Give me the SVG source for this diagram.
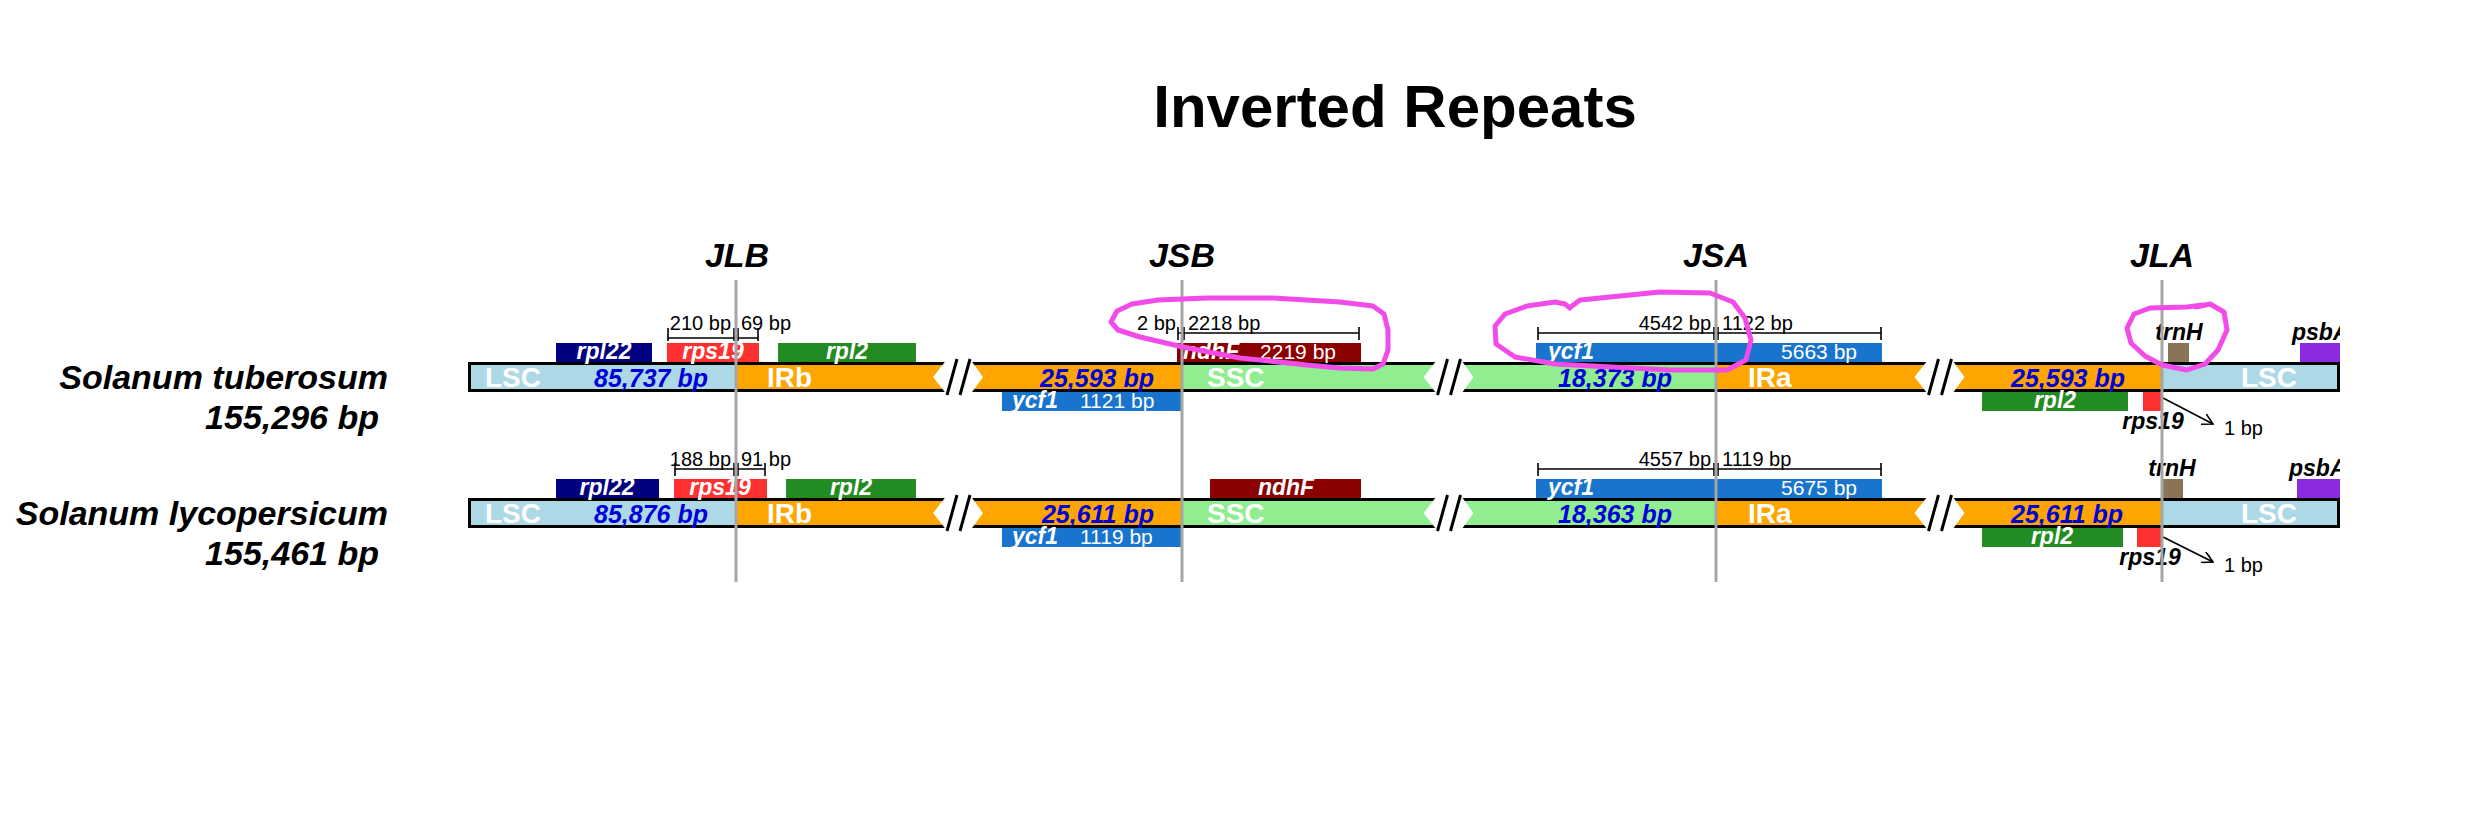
<svg xmlns="http://www.w3.org/2000/svg" width="2490" height="830" viewBox="0 0 2490 830">
<defs>
<style>
text{font-family:"Liberation Sans",Arial,Helvetica,sans-serif}
.title{font-size:60px;font-weight:bold;fill:#000}
.jn{font-size:34px;font-weight:bold;font-style:italic;fill:#000}
.sp{font-size:34px;font-weight:bold;font-style:italic;fill:#000}
.seg{font-size:28px;font-weight:bold;fill:#fff}
.num{font-size:25px;font-weight:bold;font-style:italic;fill:#0000d8}
.gl{font-size:23px;font-weight:bold;font-style:italic;fill:#fff}
.gk{font-size:23px;font-weight:bold;font-style:italic;fill:#000}
.len{font-size:21px;fill:#fff}
.br{font-size:20px;fill:#000}
.lsc{fill:#add8e6}
.ir{fill:#ffa500}
.ssc{fill:#90ee90}
.border{fill:none;stroke:#000;stroke-width:3}
.hex{fill:#fff}
.slash{stroke:#000;stroke-width:3}
.jl{stroke:#a6a6a6;stroke-width:3}
.tick{stroke:#000;stroke-width:1.6;fill:none}
.arr{stroke:#000;stroke-width:1.6;fill:none}
.mag{fill:none;stroke:#f24ce8;stroke-width:5;stroke-linejoin:round;stroke-linecap:round}
</style>
<clipPath id="clipR"><rect x="0" y="0" width="2340" height="830"/></clipPath>
<marker id="oa" viewBox="0 0 12 12" refX="11" refY="6" markerWidth="12" markerHeight="12" markerUnits="userSpaceOnUse" orient="auto">
<path d="M0,0 L11,6 L0,12" fill="none" stroke="#000" stroke-width="1.6"/>
</marker>
<g id="bar">
<rect class="lsc" x="468" y="362" width="268" height="30"/>
<rect class="ir" x="736" y="362" width="446" height="30"/>
<rect class="ssc" x="1182" y="362" width="534" height="30"/>
<rect class="ir" x="1716" y="362" width="446" height="30"/>
<rect class="lsc" x="2162" y="362" width="178" height="30"/>
<rect class="border" x="469.5" y="363.5" width="1869" height="27"/>
<polygon class="hex" points="933,377 946,360.5 971,360.5 983,377 971,393.5 946,393.5"/>
<line class="slash" x1="947" y1="395" x2="957" y2="359"/>
<line class="slash" x1="960" y1="395" x2="970" y2="359"/>
<polygon class="hex" points="1423.5,377 1436.5,360.5 1461.5,360.5 1473.5,377 1461.5,393.5 1436.5,393.5"/>
<line class="slash" x1="1437.5" y1="395" x2="1447.5" y2="359"/>
<line class="slash" x1="1450.5" y1="395" x2="1460.5" y2="359"/>
<polygon class="hex" points="1914.5,377 1927.5,360.5 1952.5,360.5 1964.5,377 1952.5,393.5 1927.5,393.5"/>
<line class="slash" x1="1928.5" y1="395" x2="1938.5" y2="359"/>
<line class="slash" x1="1941.5" y1="395" x2="1951.5" y2="359"/>
</g>
</defs>

<rect x="0" y="0" width="2490" height="830" fill="#fff"/>

<g id="title"><text class="title" x="1395" y="127" text-anchor="middle">Inverted Repeats</text></g>

<!-- Row 1: Solanum tuberosum -->
<g id="row1">
<g id="row1-label">
<text class="sp" x="388" y="389" text-anchor="end">Solanum tuberosum</text>
<text class="sp" x="379" y="429" text-anchor="end">155,296 bp</text>
</g>
<g id="row1-regions">
<use href="#bar"/>
<text class="seg" x="485" y="387">LSC</text>
<text class="num" x="594" y="387">85,737 bp</text>
<text class="seg" x="767" y="387">IRb</text>
<text class="num" x="1154" y="387" text-anchor="end">25,593 bp</text>
<text class="seg" x="1207" y="387">SSC</text>
<text class="num" x="1558" y="387">18,373 bp</text>
<text class="seg" x="1748" y="387">IRa</text>
<text class="num" x="2011" y="387">25,593 bp</text>
<text class="seg" x="2241" y="387">LSC</text>
</g>
<g id="row1-rpl22"><rect x="556" y="343" width="96" height="19" fill="#000080"/><text class="gl" x="604" y="359" text-anchor="middle">rpl22</text></g>
<g id="row1-rps19"><rect x="667" y="343" width="92" height="19" fill="#ff3030"/><text class="gl" x="713" y="359" text-anchor="middle">rps19</text></g>
<g id="row1-rpl2"><rect x="778" y="343" width="138" height="19" fill="#228b22"/><text class="gl" x="847" y="359" text-anchor="middle">rpl2</text></g>
<g id="row1-ycf1-b"><rect x="1002" y="392" width="180" height="19" fill="#1874cd"/><text class="gl" x="1012" y="408">ycf1</text><text class="len" x="1080" y="408">1121 bp</text></g>
<g id="row1-ndhF"><rect x="1177" y="343" width="184" height="19" fill="#8b0000"/><text class="gl" x="1183" y="359">ndhF</text><text class="len" x="1336" y="359" text-anchor="end">2219 bp</text></g>
<g id="row1-ycf1-a"><rect x="1536" y="343" width="346" height="19" fill="#1874cd"/><text class="gl" x="1548" y="359">ycf1</text><text class="len" x="1857" y="359" text-anchor="end">5663 bp</text></g>
<g id="row1-rpl2-a"><rect x="1982" y="392" width="146" height="19" fill="#228b22"/><text class="gl" x="2055" y="408" text-anchor="middle">rpl2</text></g>
<g id="row1-rps19-a"><rect x="2143" y="392" width="20" height="19" fill="#ff3030"/><text class="gk" x="2153" y="429" text-anchor="middle">rps19</text></g>
<g id="row1-trnH"><rect x="2168" y="343" width="21" height="19" fill="#8b7355"/><text class="gk" x="2179" y="340" text-anchor="middle">trnH</text></g>
<g id="row1-psbA"><rect x="2300" y="343" width="40" height="19" fill="#8a2be2"/><text class="gk" x="2292" y="340" clip-path="url(#clipR)">psbA</text></g>
</g>

<!-- Row 2: Solanum lycopersicum -->
<g id="row2" transform="translate(0,136)">
<g id="row2-label">
<text class="sp" x="388" y="389" text-anchor="end">Solanum lycopersicum</text>
<text class="sp" x="379" y="429" text-anchor="end">155,461 bp</text>
</g>
<g id="row2-regions">
<use href="#bar"/>
<text class="seg" x="485" y="387">LSC</text>
<text class="num" x="594" y="387">85,876 bp</text>
<text class="seg" x="767" y="387">IRb</text>
<text class="num" x="1154" y="387" text-anchor="end">25,611 bp</text>
<text class="seg" x="1207" y="387">SSC</text>
<text class="num" x="1558" y="387">18,363 bp</text>
<text class="seg" x="1748" y="387">IRa</text>
<text class="num" x="2011" y="387">25,611 bp</text>
<text class="seg" x="2241" y="387">LSC</text>
</g>
<g id="row2-rpl22"><rect x="556" y="343" width="103" height="19" fill="#000080"/><text class="gl" x="607" y="359" text-anchor="middle">rpl22</text></g>
<g id="row2-rps19"><rect x="674" y="343" width="93" height="19" fill="#ff3030"/><text class="gl" x="720" y="359" text-anchor="middle">rps19</text></g>
<g id="row2-rpl2"><rect x="786" y="343" width="130" height="19" fill="#228b22"/><text class="gl" x="851" y="359" text-anchor="middle">rpl2</text></g>
<g id="row2-ycf1-b"><rect x="1002" y="392" width="181" height="19" fill="#1874cd"/><text class="gl" x="1012" y="408">ycf1</text><text class="len" x="1080" y="408">1119 bp</text></g>
<g id="row2-ndhF"><rect x="1210" y="343" width="151" height="19" fill="#8b0000"/><text class="gl" x="1286" y="359" text-anchor="middle">ndhF</text></g>
<g id="row2-ycf1-a"><rect x="1536" y="343" width="346" height="19" fill="#1874cd"/><text class="gl" x="1548" y="359">ycf1</text><text class="len" x="1857" y="359" text-anchor="end">5675 bp</text></g>
<g id="row2-rpl2-a"><rect x="1982" y="392" width="141" height="19" fill="#228b22"/><text class="gl" x="2052" y="408" text-anchor="middle">rpl2</text></g>
<g id="row2-rps19-a"><rect x="2137" y="392" width="26" height="19" fill="#ff3030"/><text class="gk" x="2150" y="429" text-anchor="middle">rps19</text></g>
<g id="row2-trnH"><rect x="2161" y="343" width="22" height="19" fill="#8b7355"/><text class="gk" x="2172" y="340" text-anchor="middle">trnH</text></g>
<g id="row2-psbA"><rect x="2297" y="343" width="43" height="19" fill="#8a2be2"/><text class="gk" x="2289" y="340" clip-path="url(#clipR)">psbA</text></g>
</g>

<!-- Connectors: measurement brackets, arrows -->
<g id="connectors">
<path class="tick" d="M668,338 H758 M668,328 V341 M734,328 V341 M738,328 V341 M758,328 V341"/>
<text class="br" x="731" y="330" text-anchor="end">210 bp</text>
<text class="br" x="741" y="330">69 bp</text>
<path class="tick" d="M1178,333 H1359 M1178,327 V340 M1184,327 V340 M1359,327 V340"/>
<text class="br" x="1176" y="330" text-anchor="end">2 bp</text>
<text class="br" x="1188" y="330">2218 bp</text>
<path class="tick" d="M1538,333 H1881 M1538,327 V340 M1714,327 V340 M1718,327 V340 M1881,327 V340"/>
<text class="br" x="1711" y="330" text-anchor="end">4542 bp</text>
<text class="br" x="1722" y="330">1122 bp</text>
<line class="arr" x1="2163" y1="398" x2="2213" y2="424" marker-end="url(#oa)"/>
<text class="br" x="2224" y="435">1 bp</text>
<path class="tick" d="M675,469 H765 M675,463 V476 M734,463 V476 M738,463 V476 M765,463 V476"/>
<text class="br" x="731" y="466" text-anchor="end">188 bp</text>
<text class="br" x="741" y="466">91 bp</text>
<path class="tick" d="M1538,469 H1881 M1538,463 V476 M1714,463 V476 M1718,463 V476 M1881,463 V476"/>
<text class="br" x="1711" y="466" text-anchor="end">4557 bp</text>
<text class="br" x="1722" y="466">1119 bp</text>
<line class="arr" x1="2163" y1="537" x2="2213" y2="562" marker-end="url(#oa)"/>
<text class="br" x="2224" y="572">1 bp</text>
</g>

<!-- Junction lines and labels -->
<g id="junctions">
<line class="jl" x1="736" y1="280" x2="736" y2="582"/>
<line class="jl" x1="1182" y1="280" x2="1182" y2="582"/>
<line class="jl" x1="1716" y1="280" x2="1716" y2="582"/>
<line class="jl" x1="2162" y1="280" x2="2162" y2="582"/>
<text class="jn" x="737" y="267" text-anchor="middle">JLB</text>
<text class="jn" x="1182" y="267" text-anchor="middle">JSB</text>
<text class="jn" x="1716" y="267" text-anchor="middle">JSA</text>
<text class="jn" x="2162" y="267" text-anchor="middle">JLA</text>
</g>

<!-- Hand-drawn highlight loops -->
<g id="highlights">
<polyline class="mag" points="1158,300 1207,298 1273,298 1340,302 1373,306 1384,314 1388,330 1388,350 1383,364 1373,369 1340,368 1307,365 1240,358 1183,347 1140,337 1118,330 1111,322 1117,311 1132,304 1158,300 1185,299"/>
<polyline class="mag" points="1572,306 1580,300 1610,297 1660,292 1710,293 1733,302 1745,318 1751,340 1746,360 1727,370 1670,370 1612,367 1555,364 1515,357 1496,344 1495,326 1505,314 1527,306 1555,302 1565,304 1570,308"/>
<polyline class="mag" points="2203,305 2187,307 2150,308 2134,314 2127,328 2131,343 2145,356 2162,365 2187,370 2205,364 2218,350 2227,330 2224,312 2210,304 2196,307"/>
</g>
</svg>
